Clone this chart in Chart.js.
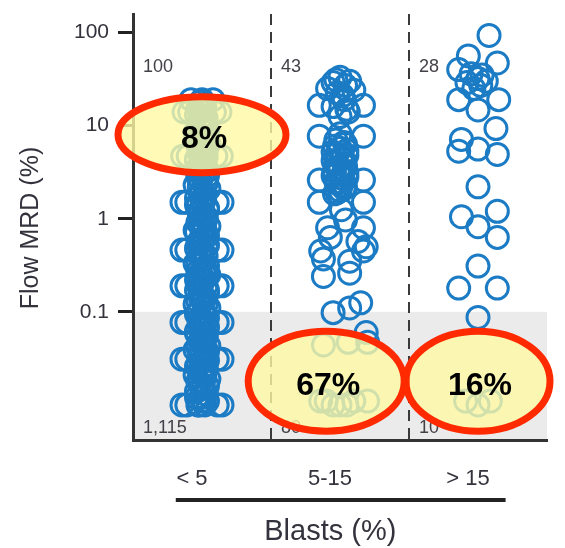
<!DOCTYPE html>
<html lang="en">
<head>
<meta charset="UTF-8">
<title>Flow MRD by blast percentage</title>
<script src="https://cdn.jsdelivr.net/npm/chart.js@4.4.1/dist/chart.umd.min.js"></script>
<style>
  body { margin: 0; background: #fff; }
  canvas { display: block; }
</style>
</head>
<body>
<canvas id="mrd" width="565" height="548"></canvas>
<script>
// blast categories on the x axis
const groups = ['< 5', '5-15', '> 15'];
const topCounts = ['100', '43', '28'];
const bottomCounts = ['1,115', '80', '10'];

// y axis ticks (log scale)
const yTicks = [100, 10, 1, 0.1];
const yTickLabels = ['100', '10', '1', '0.1'];
const mrdCutoff = 0.1;

// < 5 % blasts: dense central column
const lowCoreMRD = [
  0.010, 0.010, 0.011, 0.012, 0.013, 0.014, 0.016, 0.017, 0.019, 0.021,
  0.023, 0.025, 0.027, 0.030, 0.033, 0.035, 0.039, 0.043, 0.047, 0.052,
  0.056, 0.062, 0.068, 0.075, 0.082, 0.090, 0.098, 0.11, 0.12, 0.13,
  0.14, 0.16, 0.17, 0.19, 0.21, 0.23, 0.25, 0.27, 0.30, 0.33,
  0.36, 0.40, 0.43, 0.48, 0.52, 0.57, 0.63, 0.69, 0.75, 0.83,
  0.91, 1.0, 1.1, 1.2, 1.3, 1.4, 1.6, 1.7, 1.9, 2.1,
  2.3, 2.5, 2.8, 3.0, 3.3, 3.7, 4.0, 4.4, 4.8, 5.3,
  5.8, 6.4, 7.0, 7.7, 8.4, 9.2, 10, 11, 12, 13, 15, 16, 18,
  0.010, 0.011, 0.012, 0.013, 0.015, 0.016, 0.018, 0.020, 0.022, 0.024,
  0.026, 0.029, 0.031, 0.034, 0.037, 0.041, 0.045, 0.050, 0.054, 0.059,
  0.065, 0.072, 0.079, 0.086, 0.094, 0.10, 0.12, 0.13, 0.14, 0.15,
  0.17, 0.18, 0.20, 0.22, 0.24, 0.26, 0.28, 0.31, 0.34, 0.38,
  0.41, 0.45, 0.50, 0.54, 0.60, 0.66, 0.72, 0.79, 0.87, 0.95,
  1.05, 1.15, 1.25, 1.35, 1.5, 1.65, 1.8, 2.0, 2.2, 2.4,
  2.6, 2.9, 3.2, 3.5, 3.9, 4.2, 4.6, 5.1, 5.6, 6.1,
  6.7, 7.4, 8.1, 8.9, 9.7, 10.5, 11.5, 12.5, 14, 15.5, 17
];
const lowCoreJitter = [
  0.02, -0.03, 0.04, -0.01, 0.03, -0.04, 0.01, -0.02, 0.05, -0.05,
  0.00, 0.03, -0.03, 0.04, -0.02, 0.02, -0.05, 0.05, -0.01, 0.01,
  0.03, -0.04, 0.04, -0.02, 0.00, 0.02, -0.03, 0.05, -0.05, 0.01,
  -0.01, 0.04, -0.04, 0.03, -0.02, 0.00, 0.05, -0.03, 0.02, -0.05,
  0.01, 0.03, -0.01, -0.04, 0.04, -0.02, 0.02, 0.00, -0.05, 0.05,
  -0.03, 0.03, 0.01, -0.02, 0.04, -0.04, 0.00, 0.02, -0.01, 0.05,
  -0.05, 0.03, -0.03, 0.01, 0.04, -0.02, 0.02, -0.04, 0.00, 0.03,
  -0.01, 0.05, -0.03, 0.02, -0.05, 0.04, -0.02, 0.01, 0.03, -0.04, 0.00, 0.02, -0.01,
  -0.02, 0.01, -0.04, 0.03, 0.00, 0.04, -0.03, 0.02, -0.01, 0.03,
  -0.04, 0.00, 0.02, -0.02, 0.04, -0.03, 0.01, -0.01, 0.03, -0.04,
  0.00, 0.02, -0.02, 0.04, -0.04, 0.01, 0.03, -0.03, 0.02, -0.01,
  0.04, -0.02, 0.00, -0.04, 0.03, -0.01, 0.02, 0.04, -0.03, 0.01,
  -0.02, 0.00, 0.03, -0.03, 0.01, 0.04, -0.04, 0.02, -0.01, 0.00,
  0.03, -0.02, 0.04, -0.03, 0.01, -0.04, 0.02, 0.00, -0.02, 0.03,
  -0.01, 0.04, -0.03, 0.00, 0.02, -0.04, 0.03, -0.02, 0.01, -0.03,
  0.02, 0.00, -0.04, 0.04, -0.01, 0.03, -0.02, 0.01, 0.00, -0.03, 0.02
];
// < 5 % blasts: tied values spreading sideways
const lowEdgeMRD = [
  0.010, 0.010, 0.010, 0.010,
  0.031, 0.031, 0.031, 0.031,
  0.077, 0.077, 0.077, 0.077,
  0.19, 0.19, 0.19, 0.19,
  0.46, 0.46, 0.46, 0.46,
  1.5, 1.5, 1.5, 1.5,
  4.7, 4.7, 4.7, 4.7,
  14, 14, 14, 14,
  19, 19, 19
];
const lowEdgeJitter = [
  -0.145, -0.11, 0.11, 0.145,
  -0.145, -0.11, 0.11, 0.145,
  -0.145, -0.11, 0.11, 0.145,
  -0.145, -0.11, 0.11, 0.145,
  -0.145, -0.11, 0.11, 0.145,
  -0.145, -0.11, 0.11, 0.145,
  -0.14, -0.1, 0.1, 0.14,
  -0.13, -0.09, 0.09, 0.13,
  -0.08, 0, 0.08
];

// 5-15 % blasts
const midMRD = [
  33, 29, 30, 25, 24, 21, 16.5, 16.5, 16, 15, 12.5, 7.7, 7.7, 8.2,
  7, 6.3, 5.7, 5.2, 4.8, 4.4, 4, 3.7, 3.4, 3.1, 2.9, 2.7, 2.4, 2.2, 2, 1.85,
  6.6, 6, 5.4, 5, 4.6, 4.2, 3.8, 3.5, 3.2, 3, 2.8, 2.5, 2.3, 2.1, 1.9,
  31, 27, 22.5, 19, 14,
  2.6, 2.6, 1.5, 1.5, 1.25, 0.97, 0.8, 0.8, 0.63, 0.57, 0.45, 0.45, 0.5, 0.37, 0.35, 0.24, 0.26, 0.098, 0.11, 0.125, 0.06,
  0.044, 0.047, 0.047, 0.011, 0.011, 0.01, 0.01, 0.01, 0.011, 0.011
];
const midJitter = [
  0, -0.05, 0.07, -0.09, 0.1, 0.02, -0.15, 0.17, -0.05, 0.05, 0, -0.15, 0.17, 0,
  -0.03, 0.04, 0, -0.05, 0.05, 0.01, -0.03, 0.04, -0.01, 0.05, -0.05, 0.02, -0.02, 0.04, 0, -0.04,
  0.03, -0.04, 0.05, -0.02, 0.02, -0.05, 0.03, 0, -0.04, 0.02, 0.05, -0.03, 0.01, 0.03, -0.02,
  -0.03, 0.04, -0.02, 0.03, 0.06,
  -0.15, 0.17, -0.15, 0.17, 0.01, 0.04, -0.09, 0.17, -0.07, 0.13, -0.14, 0.17, 0.19, -0.12, 0.07, -0.12, 0.07, -0.05, 0.07, 0.15, 0.19,
  -0.12, 0.06, 0.2, -0.14, 0.2, 0, -0.05, 0.05, 0.1, -0.1
];

// > 15 % blasts
const highMRD = [
  93, 56, 47, 40, 36, 35, 32, 30, 29, 27, 25, 19, 19, 14.7, 9.3, 7.1, 5.3, 5.6, 4.9,
  2.2, 1.05, 1.2, 0.82, 0.63, 0.31, 0.18, 0.18, 0.087, 0.011, 0.011, 0.01
];
const highJitter = [
  0.08, -0.07, 0.14, -0.14, -0.05, 0.03, 0, 0.06, -0.08, 0.02, -0.03, -0.14, 0.15, 0, 0.13, -0.12, -0.14, 0, 0.14,
  0, -0.12, 0.14, 0, 0.14, 0, -0.14, 0.14, 0, -0.09, 0.09, 0
];

// percentage call-outs
const calloutLabels = ['8%', '67%', '16%'];
const calloutX = [1, 1.9, 3.0];
const calloutY = [8, 0.018, 0.018];

const FONT = '"Liberation Sans", Arial, sans-serif';
const TEXT = '#33333d';
const BLUE = '#1b7bc4';

function toPoints(group, values, jitter) {
  return values.map((v, i) => ({ x: group + jitter[i], y: v }));
}

const calloutSize = [[84, 38], [78, 50], [72, 50]];

const decorations = {
  id: 'decorations',
  beforeDraw(chart) {
    const { ctx, chartArea: a, scales: { y } } = chart;
    const yc = y.getPixelForValue(mrdCutoff);
    ctx.save();
    ctx.fillStyle = '#ebebeb';
    ctx.fillRect(a.left, yc, a.right - a.left, a.bottom - yc);
    ctx.restore();
  },
  beforeDatasetsDraw(chart) {
    const { ctx, chartArea: a, scales: { x } } = chart;
    ctx.save();
    // dashed dividers between groups
    ctx.strokeStyle = '#3a3a3a';
    ctx.lineWidth = 2;
    ctx.setLineDash([11, 7]);
    [1.5, 2.5].forEach(v => {
      const px = Math.round(x.getPixelForValue(v));
      ctx.beginPath();
      ctx.moveTo(px, a.top);
      ctx.lineTo(px, a.bottom);
      ctx.stroke();
    });
    ctx.setLineDash([]);
    // patient counts per group
    ctx.fillStyle = '#444048';
    ctx.font = '18px ' + FONT;
    ctx.textAlign = 'left';
    ctx.textBaseline = 'alphabetic';
    groups.forEach((g, i) => {
      const left = x.getPixelForValue(i + 0.5) + 10;
      ctx.fillText(topCounts[i], left, a.top + 58);
      ctx.fillText(bottomCounts[i], left, a.bottom - 7);
    });
    ctx.restore();
  },
  afterDatasetsDraw(chart) {
    const { ctx, scales: { x, y } } = chart;
    ctx.save();
    calloutLabels.forEach((label, i) => {
      const cx = x.getPixelForValue(calloutX[i]);
      const cy = y.getPixelForValue(calloutY[i]);
      const [rx, ry] = calloutSize[i];
      ctx.beginPath();
      ctx.ellipse(cx, cy, rx, ry, 0, 0, Math.PI * 2);
      ctx.fillStyle = 'rgba(255, 250, 165, 0.8)';
      ctx.fill();
      ctx.lineWidth = 7;
      ctx.strokeStyle = '#ff2a00';
      ctx.stroke();
      ctx.fillStyle = '#000';
      ctx.font = 'bold 32px ' + FONT;
      ctx.textAlign = 'center';
      ctx.textBaseline = 'middle';
      ctx.fillText(label, cx + 2, cy + 5);
    });
    ctx.restore();
  },
  afterDraw(chart) {
    const { ctx, chartArea: a, scales: { x } } = chart;
    ctx.save();
    // rule under the group labels
    ctx.strokeStyle = '#222';
    ctx.lineWidth = 4;
    ctx.beginPath();
    ctx.moveTo(x.getPixelForValue(0.81), 500);
    ctx.lineTo(x.getPixelForValue(3.2), 500);
    ctx.stroke();
    ctx.fillStyle = TEXT;
    ctx.textAlign = 'center';
    ctx.textBaseline = 'alphabetic';
    ctx.font = '29px ' + FONT;
    ctx.fillText('Blasts (%)', x.getPixelForValue(1.93), 540);
    // y axis title
    ctx.translate(38, (a.top + a.bottom) / 2 + 1);
    ctx.rotate(-Math.PI / 2);
    ctx.font = '25px ' + FONT;
    ctx.fillText('Flow MRD (%)', 0, 0);
    ctx.restore();
  }
};

const pointStyle = {
  showLine: false,
  pointRadius: 11,
  pointHoverRadius: 11,
  pointBorderWidth: 3,
  borderColor: BLUE,
  pointBorderColor: BLUE,
  pointBackgroundColor: 'rgba(0,0,0,0)',
  clip: false
};

new Chart(document.getElementById('mrd'), {
  type: 'scatter',
  data: {
    datasets: [
      Object.assign({ label: groups[0], data: toPoints(1, lowCoreMRD, lowCoreJitter).concat(toPoints(1, lowEdgeMRD, lowEdgeJitter)) }, pointStyle),
      Object.assign({ label: groups[1], data: toPoints(2, midMRD, midJitter) }, pointStyle),
      Object.assign({ label: groups[2], data: toPoints(3, highMRD, highJitter) }, pointStyle)
    ]
  },
  options: {
    responsive: false,
    animation: false,
    devicePixelRatio: 1,
    layout: { padding: { left: 0, right: 18, top: 5, bottom: 0 } },
    plugins: { legend: { display: false }, tooltip: { enabled: false } },
    scales: {
      x: {
        type: 'linear',
        min: 0.5,
        max: 3.5,
        afterBuildTicks: s => { s.ticks = groups.map((g, i) => ({ value: i + 1 })); },
        afterFit: s => { s.height = 108; s.paddingLeft = 0; s.paddingRight = 0; },
        grid: { display: false, drawTicks: false },
        border: { display: true, color: '#333', width: 3 },
        ticks: {
          callback: v => groups[Math.round(v) - 1],
          font: { family: FONT, size: 22 },
          color: TEXT,
          padding: 26,
          labelOffset: -10,
          autoSkip: false,
          maxRotation: 0
        }
      },
      y: {
        type: 'logarithmic',
        min: 0.0042,
        max: 158,
        afterBuildTicks: s => { s.ticks = yTicks.map(v => ({ value: v })); },
        afterFit: s => { s.width = 133; s.paddingTop = 0; s.paddingBottom = 0; },
        grid: {
          display: true,
          drawOnChartArea: false,
          drawTicks: true,
          tickLength: 15,
          tickWidth: 3,
          tickColor: '#222'
        },
        border: { display: true, color: '#333', width: 3 },
        ticks: {
          callback: v => yTickLabels[yTicks.indexOf(v)],
          font: { family: FONT, size: 21 },
          color: TEXT,
          padding: 9
        }
      }
    }
  },
  plugins: [decorations]
});
</script>
</body>
</html>
